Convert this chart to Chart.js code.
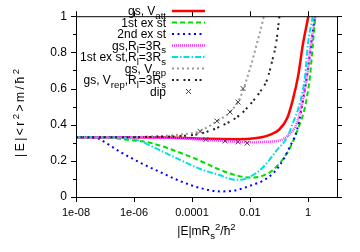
<!DOCTYPE html>
<html><head><meta charset="utf-8">
<script src="https://cdn.jsdelivr.net/npm/chart.js@4"></script>
<style>html,body{margin:0;padding:0;background:#fff}</style>
</head><body>
<canvas id="c" width="360" height="252" style="width:360px;height:252px;display:block"></canvas>
<script>
// ---- data (x given as log10 of |E|mRs^2/hbar^2) ----
const xTickVals = [1e-8, 1e-6, 1e-4, 1e-2, 1];
const xTickLabels = ["1e-08", "1e-06", "0.0001", "0.01", "1"];
const yTickLabels = ["0", "0.2", "0.4", "0.6", "0.8", "1"];

const redLogE = [-8, -6, -4.5, -3.5, -2.5, -2, -1.6, -1.3, -1, -0.72, -0.52, -0.34, -0.17, 0, 0.03];
const redY    = [0.33, 0.33, 0.328, 0.322, 0.32, 0.322, 0.33, 0.345, 0.372, 0.435, 0.54, 0.67, 0.85, 0.99, 1.02];

const greenLogE = [-8, -6.83, -6.14, -5.45, -4.41, -3.72, -3.03, -2.34, -1.9, -1.41, -1.07, -0.72, -0.55, -0.34, -0.1, 0.07, 0.17, 0.24, 0.26];
const greenY    = [0.33, 0.327, 0.315, 0.30, 0.245, 0.20, 0.15, 0.114, 0.108, 0.128, 0.17, 0.243, 0.295, 0.38, 0.50, 0.67, 0.85, 0.98, 1.02];

const blueLogE = [-8, -7.34, -7.17, -6.48, -5.79, -5.1, -4.41, -3.72, -3.03, -2.59, -2.0, -1.41, -0.97, -0.62, -0.38, -0.21, 0, 0.17, 0.25];
const blueY    = [0.33, 0.328, 0.318, 0.25, 0.19, 0.138, 0.088, 0.05, 0.031, 0.034, 0.062, 0.104, 0.176, 0.28, 0.37, 0.50, 0.71, 0.92, 1.02];

const magLogE = [-8, -6, -4.5, -3.5, -2.5, -2, -1.5, -1, -0.62, -0.38, -0.21, -0.03, 0.1, 0.24, 0.27];
const magY    = [0.33, 0.33, 0.325, 0.316, 0.306, 0.303, 0.305, 0.312, 0.35, 0.41, 0.52, 0.67, 0.85, 0.98, 1.02];

const cyanLogE = [-8, -6.8, -6.2, -5.79, -5.45, -4.41, -3.72, -3.03, -2.59, -2.34, -2.1, -1.55, -1.07, -0.72, -0.52, -0.28, -0.1, 0, 0.14, 0.18];
const cyanY    = [0.33, 0.33, 0.325, 0.31, 0.285, 0.205, 0.155, 0.12, 0.097, 0.095, 0.104, 0.165, 0.26, 0.33, 0.41, 0.52, 0.67, 0.85, 0.98, 1.02];

const grayLogE = [-8, -6, -5.45, -4.41, -3.72, -3.14, -2.69, -2.34, -2.0, -1.76, -1.55, -1.5];
const grayY    = [0.33, 0.332, 0.335, 0.345, 0.365, 0.42, 0.47, 0.55, 0.71, 0.85, 0.98, 1.02];

const blackLogE = [-8, -6, -5.45, -4.41, -3.72, -3.03, -2.34, -1.9, -1.66, -1.41, -1.24, -1.1, -1.0, -0.97];
const blackY    = [0.33, 0.33, 0.332, 0.337, 0.35, 0.39, 0.455, 0.53, 0.58, 0.65, 0.75, 0.85, 0.98, 1.02];

const dipLogE = [-3.72, -3.14, -2.69, -2.41, -2.24, -3.52, -2.86, -2.41, -2.10];
const dipY    = [0.363, 0.42, 0.47, 0.525, 0.60, 0.318, 0.31, 0.305, 0.298];

// legend labels: [text, mode] mode 0 normal, 1 subscript, 2 superscript
const legendLabels = [
  [["gs, V",0],["att",1]],
  [["1st ex st",0]],
  [["2nd ex st",0]],
  [["gs,R",0],["l",1],["=3R",0],["s",1]],
  [["1st ex st,R",0],["l",1],["=3R",0],["s",1]],
  [["gs, V",0],["rep",1]],
  [["gs, V",0],["rep",1],[",R",0],["l",1],["=3R",0],["s",1]],
  [["dip",0]]
];
const xTitle = [["|E|mR",0],["s",1],["2",2],["/ħ",0],["2",2]];
const yTitle = [["|E|<r",0],["2",2],[">m/ħ",0],["2",2]];

const FAM = '"Liberation Sans", Arial, Helvetica, sans-serif';
const pts = (le, ys) => le.map((e, i) => ({x: Math.pow(10, e), y: ys[i]}));

function layoutRich(ctx, segs, size, spacing) {
  const items = []; let w = 0;
  segs.forEach(([t, m]) => {
    const fs = m ? size * 0.8 : size;
    const dy = m === 1 ? size * 0.3 : (m === 2 ? -size * 0.45 : 0);
    ctx.font = fs + 'px ' + FAM;
    const parts = spacing ? [...t] : [t];
    parts.forEach(ch => {
      const cw = ctx.measureText(ch).width;
      items.push({ch, fs, dy, x: w});
      w += cw + spacing;
    });
  });
  if (spacing) w -= spacing;
  return {items, w};
}
function drawRich(ctx, segs, x, y, align, size, spacing = 0) {
  const {items, w} = layoutRich(ctx, segs, size, spacing);
  const x0 = align === 'right' ? x - w : (align === 'center' ? x - w / 2 : x);
  ctx.textBaseline = 'alphabetic'; ctx.textAlign = 'left'; ctx.fillStyle = '#000';
  const base = y + size * 0.36;
  items.forEach(it => { ctx.font = it.fs + 'px ' + FAM; ctx.fillText(it.ch, x0 + it.x, base + it.dy); });
}

const ds = (label, le, ys, color, width, dash, order) => ({
  label, data: pts(le, ys), borderColor: color, backgroundColor: color,
  borderWidth: width, borderDash: dash, pointRadius: 0, fill: false,
  cubicInterpolationMode: 'monotone', clip: 0, order
});

const datasets = [
  ds('gs, V_att', redLogE, redY, '#ff0000', 2.5, [], 8),
  ds('1st ex st', greenLogE, greenY, '#00dd00', 2, [5, 3], 7),
  ds('2nd ex st', blueLogE, blueY, '#0000ff', 2, [2, 3.5], 6),
  ds('gs,R_l=3R_s', magLogE, magY, '#ff33ff', 2.5, [1, 1], 5),
  ds('1st ex st,R_l=3R_s', cyanLogE, cyanY, '#00e0e0', 2, [6, 2, 1.5, 2], 4),
  ds('gs, V_rep', grayLogE, grayY, '#999999', 2, [2, 3], 3),
  ds('gs, V_rep,R_l=3R_s', blackLogE, blackY, '#222222', 2, [2, 2.5, 2, 5], 2),
  {label: 'dip', data: pts(dipLogE, dipY), showLine: false, pointStyle: 'crossRot',
   pointRadius: 3.5, pointBorderWidth: 1, borderColor: '#444', backgroundColor: '#444', clip: 0, order: 1}
];

const deco = {
  id: 'deco',
  afterDraw(chart) {
    const {ctx, chartArea: a, scales: {x, y}} = chart;
    ctx.save();
    ctx.strokeStyle = '#000'; ctx.lineWidth = 1; ctx.setLineDash([]);
    ctx.strokeRect(a.left + 0.5, a.top + 0.5, a.right - a.left, a.bottom - a.top);
    ctx.beginPath();
    for (let i = 0; i <= 10; i++) {
      const py = Math.round(y.getPixelForValue(i / 10)) + 0.5;
      const len = i % 2 === 0 ? 5 : 3;
      ctx.moveTo(a.left - len, py); ctx.lineTo(a.left, py);
      ctx.moveTo(a.right, py); ctx.lineTo(a.right + 5, py);
    }
    xTickVals.forEach(v => {
      const px = Math.round(x.getPixelForValue(v)) + 0.5;
      ctx.moveTo(px, a.bottom); ctx.lineTo(px, a.bottom + 5);
      ctx.moveTo(px, a.top); ctx.lineTo(px, a.top - 5);
    });
    ctx.stroke();

    // legend
    const textRight = 166, s0 = 172, s1 = 205;
    datasets.forEach((d, i) => {
      const ry = 11 + i * 11.5;
      drawRich(ctx, legendLabels[i], textRight, ry, 'right', 12);
      if (d.showLine === false) {
        ctx.beginPath(); ctx.setLineDash([]); ctx.lineWidth = 1; ctx.strokeStyle = d.borderColor;
        const cx = 188.5, r = 3.5 * 0.7071;
        ctx.moveTo(cx - r, ry - r); ctx.lineTo(cx + r, ry + r);
        ctx.moveTo(cx - r, ry + r); ctx.lineTo(cx + r, ry - r);
        ctx.stroke();
      } else {
        ctx.beginPath(); ctx.setLineDash(d.borderDash); ctx.lineWidth = d.borderWidth;
        ctx.strokeStyle = d.borderColor;
        ctx.moveTo(s0, ry); ctx.lineTo(s1, ry); ctx.stroke();
      }
    });
    ctx.setLineDash([]);
    // axis titles
    drawRich(ctx, xTitle, (a.left + a.right) / 2, 231, 'center', 12);
    ctx.translate(20, 113); ctx.rotate(-Math.PI / 2);
    drawRich(ctx, yTitle, 0, 0, 'center', 12, 2.5);
    ctx.restore();
  }
};

new Chart(document.getElementById('c'), {
  type: 'line',
  data: {datasets},
  options: {
    responsive: false, animation: false, devicePixelRatio: 1,
    layout: {padding: {left: 0, right: 23, top: 4, bottom: 0}},
    plugins: {legend: {display: false}, tooltip: {enabled: false}},
    elements: {line: {borderCapStyle: 'butt'}},
    scales: {
      x: {
        type: 'logarithmic', min: 1e-8, max: 10, position: 'bottom',
        afterBuildTicks: s => { s.ticks = xTickVals.map(v => ({value: v})); },
        afterFit: s => { s.height = 55; },
        ticks: {callback: (v, i) => xTickLabels[i], font: {family: FAM, size: 11}, color: '#000',
                padding: 9, maxRotation: 0, minRotation: 0, autoSkip: false},
        grid: {display: false, drawTicks: false}, border: {display: false}
      },
      y: {
        type: 'linear', min: 0, max: 1,
        afterFit: s => { s.width = 76; },
        ticks: {stepSize: 0.2, callback: (v, i) => yTickLabels[i], font: {family: FAM, size: 12},
                color: '#000', padding: 9},
        grid: {display: false, drawTicks: false}, border: {display: false}
      }
    }
  },
  plugins: [deco]
});
</script>
</body></html>
